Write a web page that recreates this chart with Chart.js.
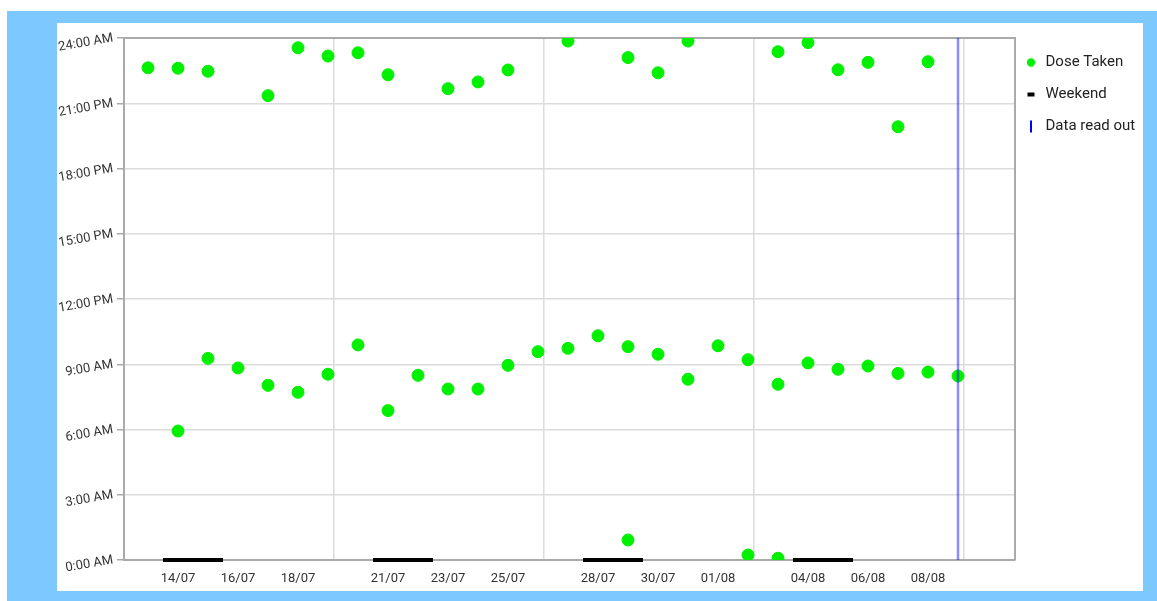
<!DOCTYPE html>
<html>
<head>
<meta charset="utf-8">
<script src="https://cdn.jsdelivr.net/npm/chart.js@4.4.1/dist/chart.umd.min.js"></script>
<style>
  html, body { margin: 0; padding: 0; background: #fff; }
  body { width: 1157px; height: 601px; position: relative; overflow: hidden; }
  #frame { position: absolute; left: 7px; top: 11px; right: 0; bottom: 0; background: #7dc9ff; }
  #panel { position: absolute; left: 57px; top: 23px; width: 1086px; height: 568px; background: #fff; }
  #chart { position: absolute; left: 0; top: 0; }
</style>
</head>
<body>
<div id="frame"></div>
<div id="panel"></div>
<canvas id="chart" width="1157" height="601"></canvas>
<script>
// one entry per day
const days = ['13/07', '14/07', '15/07', '16/07', '17/07', '18/07', '19/07', '20/07', '21/07', '22/07',
    '23/07', '24/07', '25/07', '26/07', '27/07', '28/07', '29/07', '30/07', '31/07', '01/08',
    '02/08', '03/08', '04/08', '05/08', '06/08', '07/08', '08/08', '09/08'];

// dose times in hours of the day
const morningDose = [null, 5.93, 9.27, 8.83, 8.03, 7.71, 8.54, 9.89, 6.87, 8.49,
    7.86, 7.86, 8.95, 9.58, 9.73, 10.31, 9.81, 9.46, 8.31, 9.85,
    9.21, 8.08, 9.06, 8.77, 8.92, 8.58, 8.64, 8.46];
const eveningDose = [22.63, 22.61, 22.47, null, 21.35, 23.55, 23.17, 23.32, 22.31, null,
    21.67, 21.98, 22.53, null, 23.86, null, 23.10, 22.40, 23.86, null,
    null, 23.37, 23.79, 22.54, 22.88, 19.92, 22.91, null];
const nightDose = [null, null, null, null, null, null, null, null, null, null,
    null, null, null, null, null, null, 0.92, null, null, null,
    0.23, 0.08, null, null, null, null, null, null];

const weekendDays = [['14/07', '15/07'], ['21/07', '22/07'], ['28/07', '29/07'], ['04/08', '05/08']];
const readOutDay = '09/08';

const xTickLabels = ['14/07', '16/07', '18/07', '21/07', '23/07', '25/07', '28/07', '30/07', '01/08', '04/08', '06/08', '08/08'];
const yTickLabels = ['0:00 AM', '3:00 AM', '6:00 AM', '9:00 AM', '12:00 PM', '15:00 PM', '18:00 PM', '21:00 PM', '24:00 AM'];

const xMin = -0.8, xMax = 28.9;
const doseColor = '#00f000';

let dosePoints = [];
days.forEach((d, i) => {
    [nightDose[i], morningDose[i], eveningDose[i]].forEach(h => {
        if (h !== null) dosePoints.push({ x: i, y: h });
    });
});

let weekendLine = [];
weekendDays.forEach(w => {
    let a = days.indexOf(w[0]) - 0.5;
    let b = days.indexOf(w[w.length - 1]) + 0.5;
    weekendLine.push({ x: a, y: 0 }, { x: b, y: 0 }, { x: b, y: null });
});

let readOut = days.indexOf(readOutDay);

// small legend markers, drawn a bit left of the legend box centre
const makeMarker = draw => {
    let c = document.createElement('canvas');
    c.width = 22;
    c.height = 14;
    draw(c.getContext('2d'));
    return c;
};
const legendMarkers = [
    makeMarker(g => { g.fillStyle = doseColor; g.beginPath(); g.arc(7, 7, 4.2, 0, Math.PI * 2); g.fill(); }),
    makeMarker(g => { g.fillStyle = '#000'; g.fillRect(3.5, 5, 7, 4); }),
    makeMarker(g => { g.fillStyle = '#0000ff'; g.fillRect(6, 1, 2, 12); })
];

const frameBorder = {
    id: 'frameBorder',
    beforeDatasetsDraw(chart) {
        let { ctx, chartArea } = chart;
        ctx.save();
        ctx.strokeStyle = '#aaaaaa';
        ctx.lineWidth = 2;
        ctx.beginPath();
        ctx.moveTo(chartArea.left, chartArea.top);
        ctx.lineTo(chartArea.right, chartArea.top);
        ctx.lineTo(chartArea.right, chartArea.bottom);
        ctx.stroke();
        ctx.restore();
    }
};

Chart.defaults.font.family = 'Roboto';

let config = {
    type: 'line',
    data: {
        datasets: [{
            label: 'Dose Taken',
            data: dosePoints,
            showLine: false,
            backgroundColor: doseColor,
            borderColor: doseColor,
            pointRadius: 6,
            pointHoverRadius: 6,
            pointBorderWidth: 1,
            clip: 0,
            order: 1
        }, {
            label: 'Weekend',
            data: weekendLine,
            borderColor: '#000',
            backgroundColor: '#000',
            borderWidth: 4,
            pointRadius: 0,
            spanGaps: false,
            clip: false,
            order: 2
        }, {
            label: 'Data read out',
            data: [{ x: readOut, y: 0 }, { x: readOut, y: 24 }],
            borderColor: 'rgba(0, 0, 255, 0.45)',
            backgroundColor: 'rgba(0, 0, 255, 1)',
            borderWidth: 2.5,
            pointRadius: 0,
            order: 0
        }]
    },
    options: {
        responsive: false,
        animation: false,
        layout: { padding: { top: 38, right: 20, bottom: 10, left: 0 } },
        plugins: {
            tooltip: { enabled: false },
            legend: {
                position: 'right',
                align: 'start',
                maxWidth: 122,
                labels: {
                    usePointStyle: true,
                    boxWidth: 6,
                    boxHeight: 6,
                    padding: 17,
                    color: '#222',
                    font: { size: 15 },
                    sort: (a, b) => a.datasetIndex - b.datasetIndex,
                    generateLabels: chart => {
                        let items = Chart.defaults.plugins.legend.labels.generateLabels(chart);
                        items.forEach(item => {
                            item.pointStyle = legendMarkers[item.datasetIndex];
                            item.rotation = 0;
                        });
                        return items;
                    }
                }
            }
        },
        scales: {
            x: {
                type: 'linear',
                min: xMin,
                max: xMax,
                afterBuildTicks: scale => {
                    let ticks = xTickLabels.map(l => ({ value: days.indexOf(l), label: l }));
                    for (let v = xMin; v <= xMax; v += 7) ticks.push({ value: v, week: true });
                    ticks.sort((a, b) => a.value - b.value);
                    scale.ticks = ticks;
                },
                afterFit: scale => { scale.height = 31; },
                ticks: {
                    autoSkip: false,
                    maxRotation: 0,
                    padding: 3,
                    color: '#333',
                    font: { size: 13 },
                    callback: function (value, index, ticks) {
                        return ticks[index].week ? '' : ticks[index].label;
                    }
                },
                grid: {
                    color: c => (c.tick && c.tick.week) ? '#dcdcdc' : 'rgba(0,0,0,0)',
                    lineWidth: 1.5,
                    tickColor: 'rgba(0,0,0,0)',
                    tickLength: 8
                },
                border: { color: '#aaaaaa', width: 2 }
            },
            y: {
                min: 0,
                max: 24,
                afterFit: scale => { scale.width = 124; },
                ticks: {
                    stepSize: 3,
                    minRotation: 10,
                    maxRotation: 10,
                    padding: 4,
                    color: '#333',
                    font: { size: 13 },
                    callback: v => yTickLabels[v / 3]
                },
                grid: {
                    color: '#dcdcdc',
                    lineWidth: 1.5,
                    tickColor: '#aaaaaa',
                    tickLength: 7
                },
                border: { color: '#aaaaaa', width: 2 }
            }
        }
    },
    plugins: [frameBorder]
};

let chart = new Chart(document.getElementById('chart'), config);
</script>
</body>
</html>
